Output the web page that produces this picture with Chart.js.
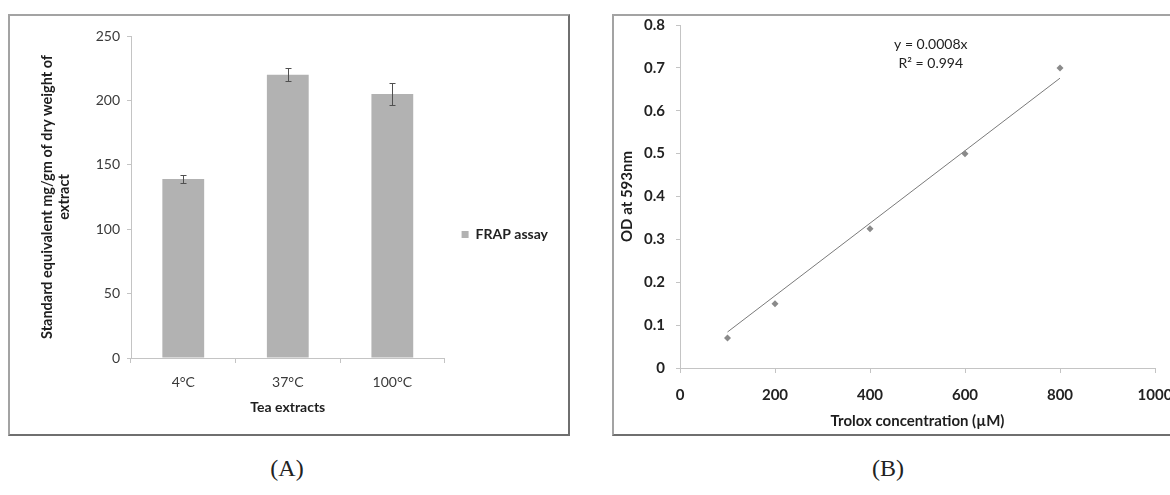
<!DOCTYPE html>
<html>
<head>
<meta charset="utf-8">
<script src="https://cdn.jsdelivr.net/npm/chart.js@4.4.1/dist/chart.umd.min.js"></script>
<style>
html, body { margin: 0; padding: 0; width: 1170px; height: 495px; overflow: hidden; background: #fff; }
.frame { position: absolute; box-sizing: border-box; border: 2px solid #a3a3a3; border-right-color: #6f6f6f; border-bottom-color: #6f6f6f; }
#frameA { left: 8px; top: 14px; width: 562px; height: 422px; }
#frameB { left: 612px; top: 14px; width: 570px; height: 422px; }
canvas { position: absolute; }
#chartA { left: 10px; top: 16px; }
#chartB { left: 614px; top: 5px; }
.panel { position: absolute; top: 455px; width: 60px; text-align: center; font-family: "Liberation Serif", "DejaVu Serif", serif; font-size: 24px; color: #222; }
</style>
</head>
<body>
<div class="frame" id="frameA"></div>
<div class="frame" id="frameB"></div>
<canvas id="chartA" width="558" height="417"></canvas>
<canvas id="chartB" width="580" height="428"></canvas>
<div class="panel" style="left:257px">(A)</div>
<div class="panel" style="left:858px">(B)</div>
<script>
/*** data (A) ***/
const teaLabels  = ['4°C', '37°C', '100°C'];
const frapValues = [139, 220, 205];
const frapErrors = [2.8, 5.2, 8.5];
/*** data (B) ***/
const troloxConc = [100, 200, 400, 600, 800];
const odValues   = [0.07, 0.15, 0.325, 0.5, 0.7];
const trendConc  = [100, 800];
const trendOd    = [0.084, 0.676];
const trendText  = ['y = 0.0008x', 'R² = 0.994'];

Chart.defaults.font.family = 'Lato, "Open Sans", sans-serif';
Chart.defaults.animation   = false;

/* error bars, drawn on the bar scale */
const errorBars = {
    id: 'errorBars',
    afterDatasetsDraw(chart, args, opts){
        let meta = chart.getDatasetMeta(0);
        let y    = chart.scales.y;
        let ctx  = chart.ctx;
        ctx.save();
        ctx.strokeStyle = opts.color;
        ctx.lineWidth   = 1;
        meta.data.forEach((bar, i)=>{
            let x   = Math.round(bar.x) + 0.5;
            let top = Math.round(y.getPixelForValue(frapValues[i] + frapErrors[i])) + 0.5;
            let bot = Math.round(y.getPixelForValue(frapValues[i] - frapErrors[i])) + 0.5;
            ctx.beginPath();
            ctx.moveTo(x, top); ctx.lineTo(x, bot);
            ctx.moveTo(x - opts.cap, top); ctx.lineTo(x + opts.cap, top);
            ctx.moveTo(x - opts.cap, bot); ctx.lineTo(x + opts.cap, bot);
            ctx.stroke();
        });
        ctx.restore();
    }
};

/* trendline equation label */
const equation = {
    id: 'equation',
    afterDraw(chart, args, opts){
        let ctx = chart.ctx;
        let x   = chart.scales.x.getPixelForValue(opts.x);
        ctx.save();
        ctx.font         = opts.font;
        ctx.fillStyle    = opts.color;
        ctx.textAlign    = 'center';
        ctx.textBaseline = 'middle';
        trendText.forEach((t, i)=>{
            ctx.fillText(t, x, chart.scales.y.getPixelForValue(opts.y[i]));
        });
        ctx.restore();
    }
};

const axisGrey = '#c4c4c4';

/*** chart A ***/
new Chart(document.querySelector('#chartA').getContext('2d'), {
    type: 'bar',
    data: {
        labels: teaLabels,
        datasets: [{
            label: 'FRAP assay',
            data: frapValues,
            backgroundColor: '#b2b2b2',
            borderWidth: 0,
            barPercentage: 0.4,
            categoryPercentage: 1.0
        }]
    },
    plugins: [errorBars],
    options: {
        responsive: false,
        layout: { padding: { left: 0, top: 20, right: 10, bottom: 0 } },
        plugins: {
            tooltip: { enabled: false },
            errorBars: { color: '#505050', cap: 3 },
            legend: {
                position: 'right',
                labels: {
                    boxWidth: 7, boxHeight: 7, padding: 17,
                    color: '#222',
                    font: { size: 14, weight: 'bold' }
                }
            }
        },
        scales: {
            x: {
                afterFit: (s)=>{ s.height = 75; },
                grid: { display: true, drawOnChartArea: false, drawTicks: true, tickLength: 5, color: axisGrey, offset: true },
                border: { color: axisGrey },
                ticks: { color: '#3a3a3a', padding: 11, font: { size: 14 } },
                title: { display: true, text: 'Tea extracts', color: '#1e1e1e', font: { size: 14, weight: 'bold' }, padding: { top: 0, bottom: 17 } }
            },
            y: {
                min: 0, max: 250,
                afterFit: (s)=>{ s.width = 121; },
                grid: { display: true, drawOnChartArea: false, drawTicks: true, tickLength: 4, color: axisGrey },
                border: { color: axisGrey },
                ticks: { stepSize: 50, color: '#3a3a3a', padding: 7, font: { size: 14 } },
                title: {
                    display: true,
                    text: ['Standard equivalent mg/gm of dry weight of', 'extract'],
                    color: '#1e1e1e',
                    font: { size: 14.5, weight: 'bold', lineHeight: 1.15 },
                    padding: { top: 29, bottom: 0 }
                }
            }
        }
    }
});

/*** chart B ***/
new Chart(document.querySelector('#chartB').getContext('2d'), {
    type: 'scatter',
    data: {
        datasets: [{
            label: 'OD',
            data: troloxConc.map((c, i)=>({ x: c, y: odValues[i] })),
            pointStyle: 'rectRot',
            pointRadius: 3.5,
            backgroundColor: '#8a8a8a',
            borderColor: '#8a8a8a',
            borderWidth: 0
        }, {
            type: 'line',
            label: 'trend',
            data: trendConc.map((c, i)=>({ x: c, y: trendOd[i] })),
            borderColor: '#7a7a7a',
            borderWidth: 1,
            pointRadius: 0,
            fill: false
        }]
    },
    plugins: [equation],
    options: {
        responsive: false,
        layout: { padding: { left: 0, top: 8, right: 39, bottom: 0 } },
        plugins: {
            tooltip: { enabled: false },
            legend: { display: false },
            equation: { x: 528, y: [0.754, 0.71], font: '14px Lato, "Open Sans", sans-serif', color: '#222' }
        },
        scales: {
            x: {
                type: 'linear', min: 0, max: 1000,
                afterFit: (s)=>{ s.height = 65; },
                grid: { display: true, drawOnChartArea: false, drawTicks: true, tickLength: 5, color: axisGrey },
                border: { color: axisGrey },
                ticks: { stepSize: 200, color: '#222', padding: 13, font: { size: 15, weight: 'bold' }, callback: (v)=>String(v) },
                title: { display: true, text: 'Trolox concentration (µM)', color: '#1e1e1e', font: { size: 15, weight: 'bold' }, padding: { top: 0, bottom: 3 } }
            },
            y: {
                min: 0, max: 0.8,
                afterFit: (s)=>{ s.width = 66; },
                grid: { display: true, drawOnChartArea: false, drawTicks: true, tickLength: 4, color: axisGrey },
                border: { color: axisGrey },
                ticks: { stepSize: 0.1, color: '#222', padding: 11, font: { size: 15, weight: 'bold' } },
                title: { display: true, text: 'OD at 593nm', color: '#1e1e1e', font: { size: 15, weight: 'bold' }, padding: { top: 4, bottom: 0 } }
            }
        }
    }
});
</script>
</body>
</html>
